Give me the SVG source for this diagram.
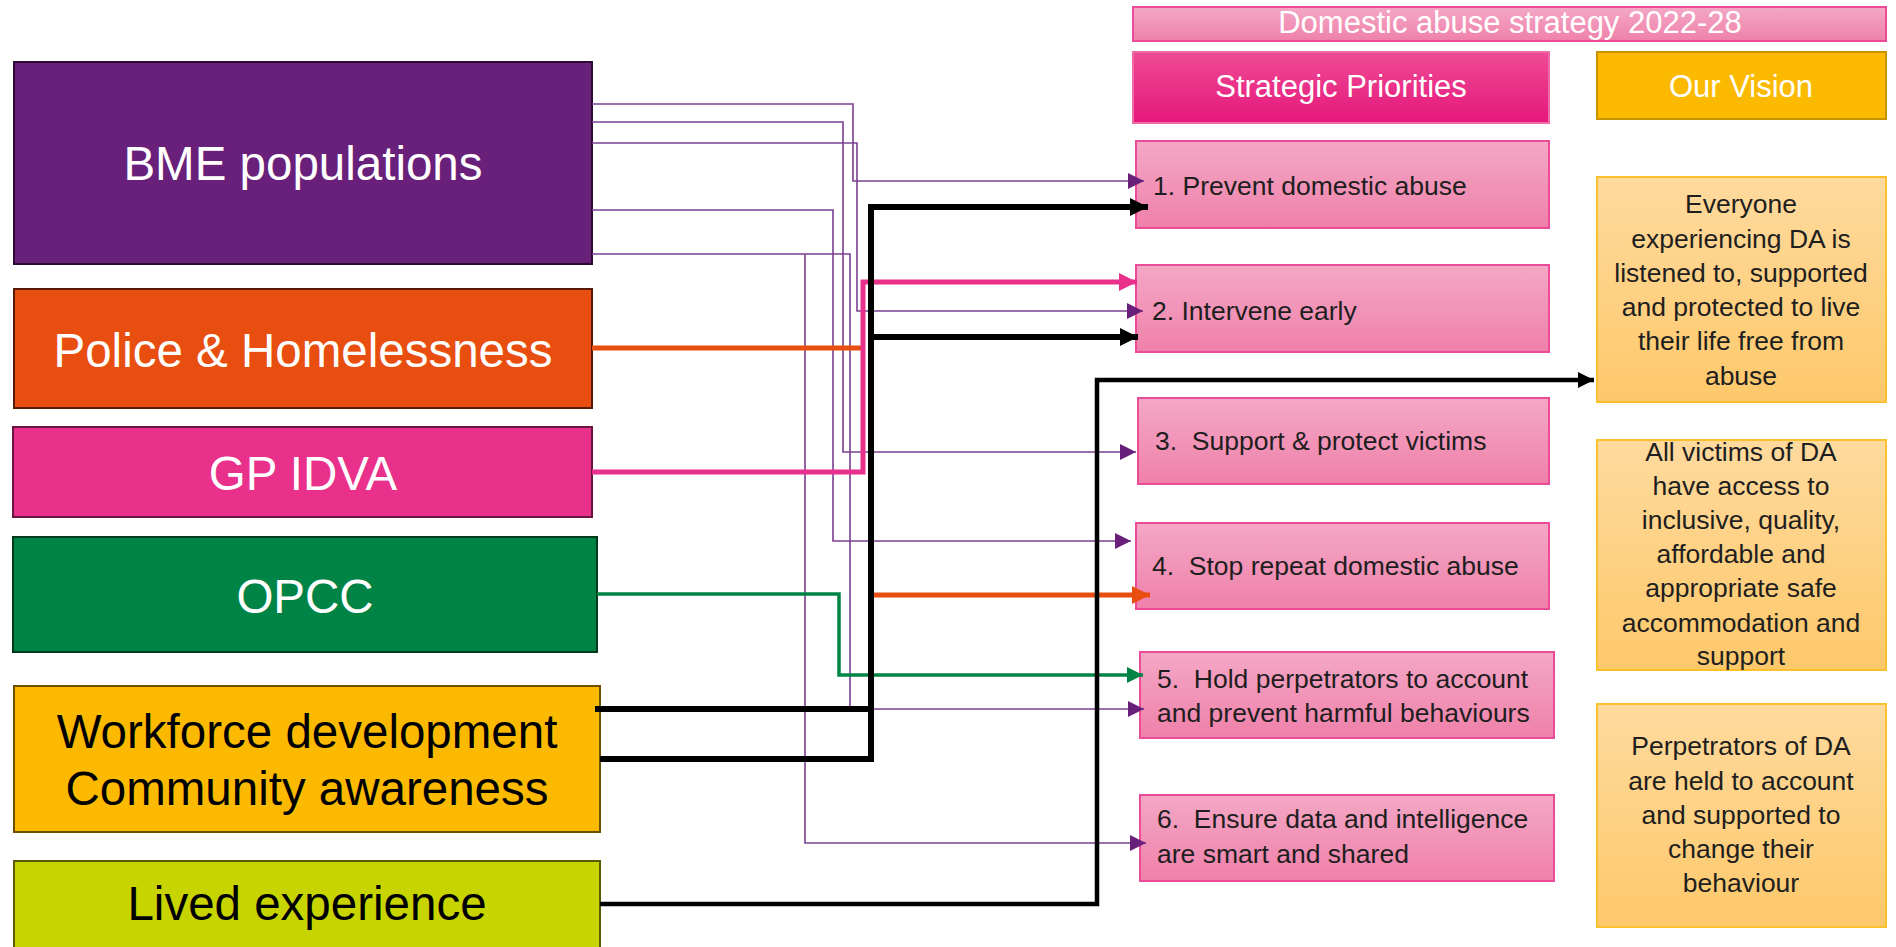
<svg xmlns="http://www.w3.org/2000/svg" width="1896" height="947" viewBox="0 0 1896 947">
<defs>
<style>
text{font-family:"Liberation Sans",Arial,sans-serif}
.big{font-size:47.5px;text-anchor:middle}
.w{fill:#ffffff}
.k{fill:#000000}
.pr{font-size:26.5px;fill:#1e1e1e;white-space:pre}
.vt{font-size:26.5px;fill:#1e1e1e;text-anchor:middle}
.prbox{fill:url(#gPink);stroke:#EC4B97;stroke-width:2}
.vbox{fill:url(#gVis);stroke:#FBC02D;stroke-width:2}
.pl{fill:none;stroke:#7B3F91;stroke-width:1.6}
.thick{fill:none;stroke-linejoin:miter}
</style>
<linearGradient id="gPink" x1="0" y1="0" x2="0" y2="1"><stop offset="0" stop-color="#F4A8C5"/><stop offset="1" stop-color="#EF80AA"/></linearGradient>
<linearGradient id="gSP" x1="0" y1="0" x2="0" y2="1"><stop offset="0" stop-color="#EE4B95"/><stop offset="1" stop-color="#E5177B"/></linearGradient>
<linearGradient id="gVis" x1="0" y1="0" x2="0" y2="1"><stop offset="0" stop-color="#FFDA9E"/><stop offset="1" stop-color="#FDC86A"/></linearGradient>
<marker id="aP" markerUnits="userSpaceOnUse" markerWidth="16" markerHeight="16" refX="16" refY="8" orient="auto"><path d="M0,0 L16,8 L0,16 Z" fill="#68207A"/></marker>
<marker id="aK" markerUnits="userSpaceOnUse" markerWidth="18" markerHeight="18" refX="18" refY="9" orient="auto"><path d="M0,0 L18,9 L0,18 Z" fill="#000"/></marker>
<marker id="aK2" markerUnits="userSpaceOnUse" markerWidth="16" markerHeight="16" refX="16" refY="8" orient="auto"><path d="M0,0 L16,8 L0,16 Z" fill="#000"/></marker>
<marker id="aPk" markerUnits="userSpaceOnUse" markerWidth="18" markerHeight="18" refX="18" refY="9" orient="auto"><path d="M0,0 L18,9 L0,18 Z" fill="#E9308A"/></marker>
<marker id="aO" markerUnits="userSpaceOnUse" markerWidth="18" markerHeight="18" refX="18" refY="9" orient="auto"><path d="M0,0 L18,9 L0,18 Z" fill="#E84E0F"/></marker>
<marker id="aG" markerUnits="userSpaceOnUse" markerWidth="16" markerHeight="16" refX="16" refY="8" orient="auto"><path d="M0,0 L16,8 L0,16 Z" fill="#008446"/></marker>
</defs>
<rect width="1896" height="947" fill="#ffffff"/>

<g id="header">
<rect x="1133" y="7" width="753" height="34" class="prbox"/>
<text x="1510" y="33" class="w" font-size="31" text-anchor="middle">Domestic abuse strategy 2022-28</text>
</g>
<g id="strategic-priorities">
<rect x="1133" y="52" width="416" height="71" fill="url(#gSP)" stroke="#F06AA8" stroke-width="2"/>
<text x="1341" y="97" class="w" font-size="31" text-anchor="middle">Strategic Priorities</text>
</g>
<g id="our-vision">
<rect x="1597" y="52" width="289" height="67" fill="#FBBA00" stroke="#C89200" stroke-width="2"/>
<text x="1741" y="97" class="w" font-size="31" text-anchor="middle">Our Vision</text>
</g>

<g id="bme"><rect x="14" y="62" width="578" height="202" fill="#68207A" stroke="#2D0A36" stroke-width="2"/><text x="303" y="180" class="big w">BME populations</text></g>
<g id="police"><rect x="14" y="289" width="578" height="119" fill="#E84E0F" stroke="#5A1A00" stroke-width="2"/><text x="303" y="367" class="big w">Police &amp; Homelessness</text></g>
<g id="gp-idva"><rect x="13" y="427" width="579" height="90" fill="#E9308A" stroke="#6A1540" stroke-width="2"/><text x="303" y="490" class="big w">GP IDVA</text></g>
<g id="opcc"><rect x="13" y="537" width="584" height="115" fill="#008446" stroke="#003A1E" stroke-width="2"/><text x="305" y="613" class="big w">OPCC</text></g>
<g id="workforce"><rect x="14" y="686" width="586" height="146" fill="#FBBA00" stroke="#6B5000" stroke-width="2"/><text x="307" y="748" class="big k">Workforce development</text><text x="307" y="805" class="big k">Community awareness</text></g>
<g id="lived"><rect x="14" y="861" width="586" height="100" fill="#C8D400" stroke="#5A5A00" stroke-width="2"/><text x="307" y="920" class="big k">Lived experience</text></g>

<g id="p1"><rect x="1136" y="141" width="413" height="87" class="prbox"/><text x="1153" y="195" class="pr">1. Prevent domestic abuse</text></g>
<g id="p2"><rect x="1136" y="265" width="413" height="87" class="prbox"/><text x="1152" y="320" class="pr">2. Intervene early</text></g>
<g id="p3"><rect x="1138" y="398" width="411" height="86" class="prbox"/><text x="1155" y="450" class="pr">3.  Support &amp; protect victims</text></g>
<g id="p4"><rect x="1136" y="523" width="413" height="86" class="prbox"/><text x="1152" y="575" class="pr">4.  Stop repeat domestic abuse</text></g>
<g id="p5"><rect x="1140" y="652" width="414" height="86" class="prbox"/><text x="1157" y="688" class="pr">5.  Hold perpetrators to account</text><text x="1157" y="722" class="pr">and prevent harmful behaviours</text></g>
<g id="p6"><rect x="1140" y="795" width="414" height="86" class="prbox"/><text x="1157" y="828" class="pr">6.  Ensure data and intelligence</text><text x="1157" y="863" class="pr">are smart and shared</text></g>

<g id="v1"><rect x="1597" y="177" width="289" height="225" class="vbox"/>
<text class="vt" x="1741" y="213">Everyone</text><text class="vt" x="1741" y="248">experiencing DA is</text><text class="vt" x="1741" y="282">listened to, supported</text><text class="vt" x="1741" y="316">and protected to live</text><text class="vt" x="1741" y="350">their life free from</text><text class="vt" x="1741" y="385">abuse</text></g>
<g id="v2"><rect x="1597" y="440" width="289" height="230" class="vbox"/>
<text class="vt" x="1741" y="461">All victims of DA</text><text class="vt" x="1741" y="495">have access to</text><text class="vt" x="1741" y="529">inclusive, quality,</text><text class="vt" x="1741" y="563">affordable and</text><text class="vt" x="1741" y="597">appropriate safe</text><text class="vt" x="1741" y="632">accommodation and</text><text class="vt" x="1741" y="665">support</text></g>
<g id="v3"><rect x="1597" y="704" width="289" height="223" class="vbox"/>
<text class="vt" x="1741" y="755">Perpetrators of DA</text><text class="vt" x="1741" y="790">are held to account</text><text class="vt" x="1741" y="824">and supported to</text><text class="vt" x="1741" y="858">change their</text><text class="vt" x="1741" y="892">behaviour</text></g>

<g id="connectors">
<path class="pl" d="M592,104 H853 V181 H1144" marker-end="url(#aP)"/>
<path class="pl" d="M592,122 H843 V452 H1136" marker-end="url(#aP)"/>
<path class="pl" d="M592,143 H857 V311 H1143" marker-end="url(#aP)"/>
<path class="pl" d="M592,210 H833 V541 H1131" marker-end="url(#aP)"/>
<path class="pl" d="M592,254 H850 V709 H1144" marker-end="url(#aP)"/>
<path class="pl" d="M805,254 V843 H1146" marker-end="url(#aP)"/>
<path class="thick" d="M597,594 H839 V675 H1143" stroke="#008446" stroke-width="3.5" marker-end="url(#aG)"/>
<path class="thick" d="M592,348 H863" stroke="#E84E0F" stroke-width="5"/>
<path class="thick" d="M873,595 H1150" stroke="#E84E0F" stroke-width="5" marker-end="url(#aO)"/>
<path class="thick" d="M592,472 H863 V282 H1137" stroke="#E9308A" stroke-width="5" marker-end="url(#aPk)"/>
<path class="thick" d="M595,709 H874" stroke="#000" stroke-width="6"/>
<path class="thick" d="M600,759 H871 V207 H1148" stroke="#000" stroke-width="6" marker-end="url(#aK)"/>
<path class="thick" d="M871,337 H1138" stroke="#000" stroke-width="6" marker-end="url(#aK)"/>
<path class="thick" d="M600,904 H1097 V380 H1594" stroke="#000" stroke-width="4.5" marker-end="url(#aK2)"/>
</g>
</svg>
